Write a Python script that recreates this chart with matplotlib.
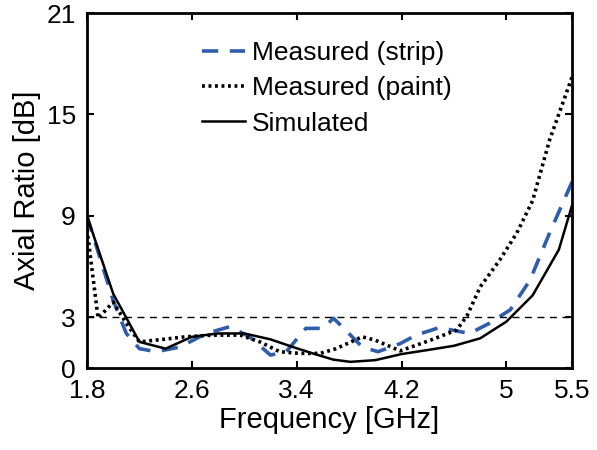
import matplotlib.pyplot as plt

plt.rcParams['font.family'] = ['Liberation Sans', 'DejaVu Sans']

# axial ratio vs frequency
freq_sim = [1.8, 2.0, 2.2, 2.4, 2.6, 2.8, 3.0, 3.2, 3.37, 3.53, 3.68, 3.81,
            4.0, 4.2, 4.4, 4.6, 4.8, 5.0, 5.2, 5.4, 5.5]
ar_sim = [9.0, 4.4, 1.55, 1.15, 1.85, 2.05, 2.05, 1.7, 1.25, 0.85, 0.5, 0.37,
          0.47, 0.83, 1.07, 1.32, 1.76, 2.75, 4.3, 7.0, 9.6]

freq_strip = [1.8, 2.0, 2.1, 2.2, 2.33, 2.51, 2.71, 2.89, 3.04, 3.2, 3.32,
              3.47, 3.6, 3.68, 3.76, 3.9, 4.02, 4.19, 4.31, 4.49, 4.65,
              4.72, 4.87, 5.03, 5.18, 5.33, 5.5]
ar_strip = [9.0, 4.0, 2.05, 1.15, 0.97, 1.25, 2.05, 2.45, 1.85, 0.77, 0.97,
            2.35, 2.35, 2.95, 2.35, 1.25, 0.97, 1.45, 1.95, 2.4, 2.15,
            2.05, 2.65, 3.45, 5.2, 8.0, 11.0]

freq_paint = [1.8, 1.885, 2.0, 2.1, 2.2, 2.38, 2.55, 2.76, 2.97, 3.12, 3.27,
              3.42, 3.58, 3.7, 3.9, 4.0, 4.19, 4.42, 4.62, 4.7, 4.8, 4.95,
              5.08, 5.2, 5.33, 5.5]
ar_paint = [8.2, 2.95, 3.9, 2.65, 1.55, 1.7, 1.85, 1.95, 1.95, 1.55, 0.97,
            0.87, 0.87, 1.15, 1.85, 1.65, 1.02, 1.65, 2.25, 3.1, 4.8, 6.4,
            8.0, 9.9, 13.5, 17.2]

xticks = [1.8, 2.6, 3.4, 4.2, 5, 5.5]
xticklabels = ['1.8', '2.6', '3.4', '4.2', '5', '5.5']
yticks = [0, 3, 9, 15, 21]

fig = plt.figure(figsize=(5.97, 4.5), dpi=100)
ax = fig.add_axes([0.1457, 0.182, 0.8123, 0.789])

ax.plot(freq_strip, ar_strip, color='#2E5EAA', lw=2.6, ls=(0, (4.5, 3.2)),
        label='Measured (strip)')
ax.plot(freq_paint, ar_paint, color='black', lw=2.6, ls=(0, (0.8, 1.0)),
        label='Measured (paint)')
ax.plot(freq_sim, ar_sim, color='black', lw=1.8, label='Simulated')
ax.axhline(3, color='black', lw=1.0, ls=(0, (5, 4)))

ax.set_xlim(1.8, 5.5)
ax.set_ylim(0, 21)
ax.set_xticks(xticks)
ax.set_xticklabels(xticklabels)
ax.set_yticks(yticks)
ax.tick_params(direction='in', length=5, width=1.5, labelsize=19,
               top=True, right=True, pad=8)
for s in ax.spines.values():
    s.set_linewidth(2)

ax.set_xlabel('Frequency [GHz]', fontsize=21, labelpad=2)
ax.set_ylabel('Axial Ratio [dB]', fontsize=21, labelpad=4)

ax.legend(loc='upper left', bbox_to_anchor=(0.215, 0.95), frameon=False,
          fontsize=19, handlelength=1.65, handletextpad=0.25,
          labelspacing=0.42, borderaxespad=0)

fig.savefig('out.png', dpi=100)
